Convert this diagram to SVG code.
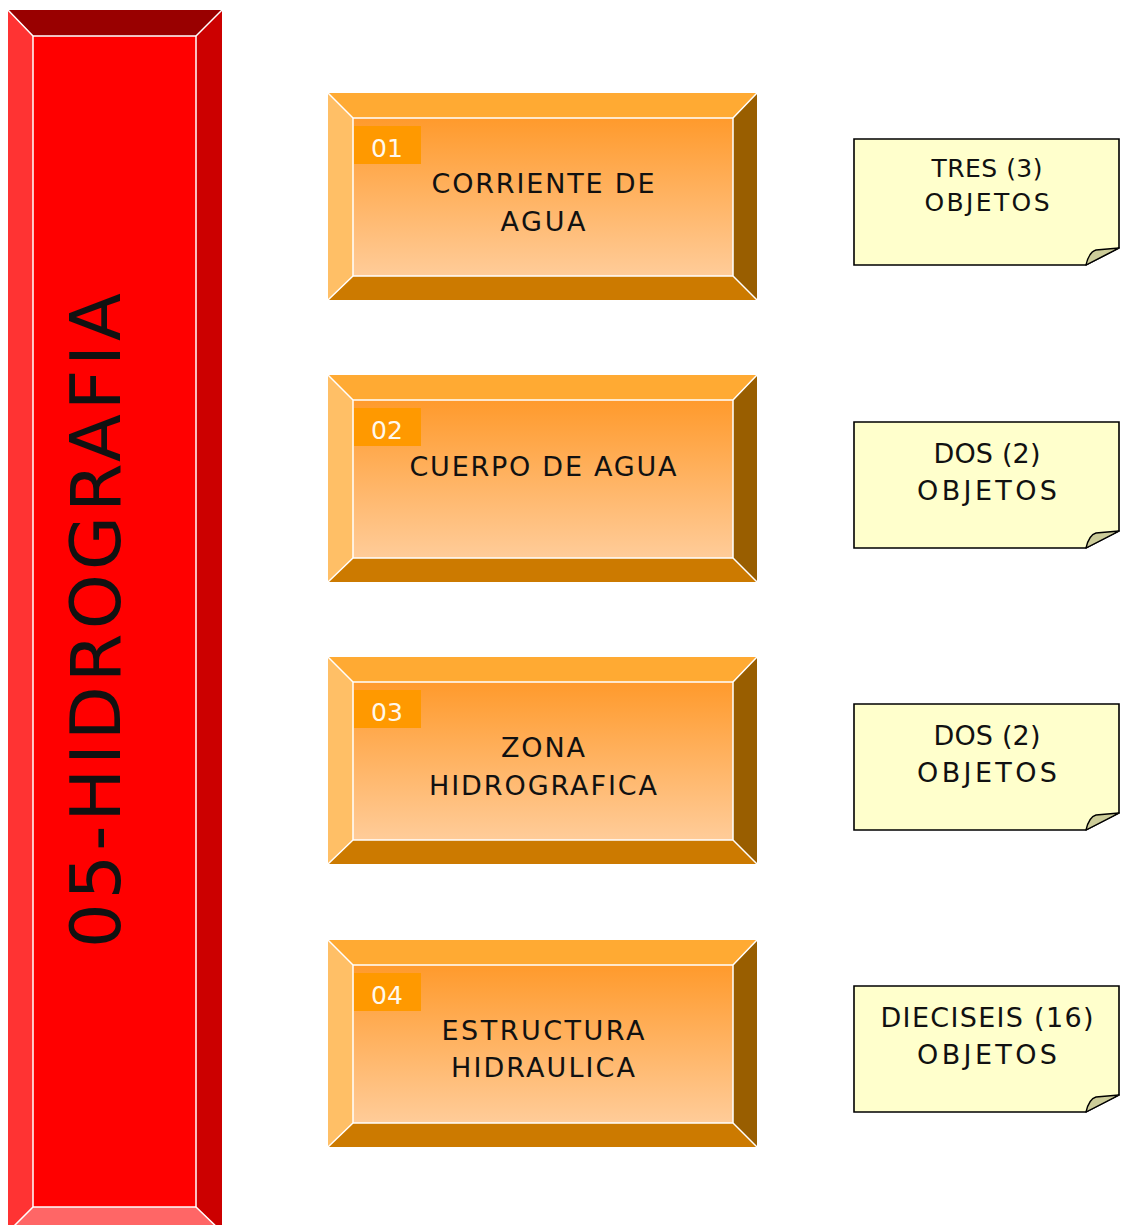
<svg xmlns="http://www.w3.org/2000/svg" width="1125" height="1225" viewBox="0 0 1125 1225">
<style>
.wl{stroke:#FFFFFF;stroke-width:1.5;fill:none}
.t{font-family:"DejaVu Sans","Liberation Sans",sans-serif;fill:#111111}
.bt{font-size:27px;text-anchor:middle}
.lb{font-family:"DejaVu Sans","Liberation Sans",sans-serif;font-size:25px;fill:#FFF8EC}
.nt{stroke:#000000;stroke-width:1.6;fill:#FFFFCC}
.nf{stroke:#000000;stroke-width:1.4;fill:#CCCC99;stroke-linejoin:round}
.ntx{text-anchor:middle}
</style>
<defs>
<linearGradient id="og" x1="0" y1="0" x2="0" y2="1">
<stop offset="0" stop-color="#FF9A2C"/>
<stop offset="1" stop-color="#FFCC99"/>
</linearGradient>
</defs>

<g id="title-bar">
<polygon points="8,10 222,10 196,36 33,36" fill="#990000"/>
<polygon points="8,10 33,36 33,1207 8,1232" fill="#FF3333"/>
<polygon points="222,10 222,1232 196,1207 196,36" fill="#CC0000"/>
<polygon points="8,1232 33,1207 196,1207 222,1232" fill="#FF6666"/>
<rect x="33" y="36" width="163" height="1171" fill="#FF0000"/>
<rect x="33" y="36" width="163" height="1171" class="wl"/>
<path d="M8,10 L33,36 M222,10 L196,36 M33,1207 L8,1232 M196,1207 L222,1232" class="wl"/>
<text transform="translate(120,620.5) rotate(-90)" class="t" font-size="70" text-anchor="middle" textLength="655" lengthAdjust="spacing" x="0" y="0" fill="#000000">05-HIDROGRAFIA</text>
</g>

<g id="box-01" transform="translate(0,93)">
<polygon points="328,0 757,0 733,25 353,25" fill="#FFAA33"/>
<polygon points="328,0 353,25 353,183 328,207" fill="#FFBF66"/>
<polygon points="757,0 757,207 733,183 733,25" fill="#995E00"/>
<polygon points="328,207 353,183 733,183 757,207" fill="#CC7A00"/>
<rect x="353" y="25" width="380" height="158" fill="url(#og)"/>
<rect x="353" y="25" width="380" height="158" class="wl"/>
<path d="M328,0 L353,25 M757,0 L733,25 M353,183 L328,207 M733,183 L757,207" class="wl"/>
<rect x="354" y="33" width="67" height="38" fill="#FF9900"/>
<text x="371" y="64" class="lb">01</text>
<text x="543" y="100" class="t bt" textLength="223" lengthAdjust="spacing">CORRIENTE DE</text>
<text x="543" y="138" class="t bt" textLength="85" lengthAdjust="spacing">AGUA</text>
</g>

<g id="box-02" transform="translate(0,375)">
<polygon points="328,0 757,0 733,25 353,25" fill="#FFAA33"/>
<polygon points="328,0 353,25 353,183 328,207" fill="#FFBF66"/>
<polygon points="757,0 757,207 733,183 733,25" fill="#995E00"/>
<polygon points="328,207 353,183 733,183 757,207" fill="#CC7A00"/>
<rect x="353" y="25" width="380" height="158" fill="url(#og)"/>
<rect x="353" y="25" width="380" height="158" class="wl"/>
<path d="M328,0 L353,25 M757,0 L733,25 M353,183 L328,207 M733,183 L757,207" class="wl"/>
<rect x="354" y="33" width="67" height="38" fill="#FF9900"/>
<text x="371" y="64" class="lb">02</text>
<text x="543" y="101" class="t bt" textLength="267" lengthAdjust="spacing">CUERPO DE AGUA</text>
</g>

<g id="box-03" transform="translate(0,657)">
<polygon points="328,0 757,0 733,25 353,25" fill="#FFAA33"/>
<polygon points="328,0 353,25 353,183 328,207" fill="#FFBF66"/>
<polygon points="757,0 757,207 733,183 733,25" fill="#995E00"/>
<polygon points="328,207 353,183 733,183 757,207" fill="#CC7A00"/>
<rect x="353" y="25" width="380" height="158" fill="url(#og)"/>
<rect x="353" y="25" width="380" height="158" class="wl"/>
<path d="M328,0 L353,25 M757,0 L733,25 M353,183 L328,207 M733,183 L757,207" class="wl"/>
<rect x="354" y="33" width="67" height="38" fill="#FF9900"/>
<text x="371" y="64" class="lb">03</text>
<text x="543" y="100" class="t bt" textLength="84" lengthAdjust="spacing">ZONA</text>
<text x="543" y="138" class="t bt" textLength="228" lengthAdjust="spacing">HIDROGRAFICA</text>
</g>

<g id="box-04" transform="translate(0,940)">
<polygon points="328,0 757,0 733,25 353,25" fill="#FFAA33"/>
<polygon points="328,0 353,25 353,183 328,207" fill="#FFBF66"/>
<polygon points="757,0 757,207 733,183 733,25" fill="#995E00"/>
<polygon points="328,207 353,183 733,183 757,207" fill="#CC7A00"/>
<rect x="353" y="25" width="380" height="158" fill="url(#og)"/>
<rect x="353" y="25" width="380" height="158" class="wl"/>
<path d="M328,0 L353,25 M757,0 L733,25 M353,183 L328,207 M733,183 L757,207" class="wl"/>
<rect x="354" y="33" width="67" height="38" fill="#FF9900"/>
<text x="371" y="64" class="lb">04</text>
<text x="543" y="100" class="t bt" textLength="203" lengthAdjust="spacing">ESTRUCTURA</text>
<text x="543" y="137" class="t bt" textLength="184" lengthAdjust="spacing">HIDRAULICA</text>
</g>

<g id="note-01" transform="translate(0,139)">
<path d="M854,0 H1119 V109 L1086,126 H854 Z" class="nt"/>
<path d="M1086,126 Q1089,113 1096,111 L1119,109 Z" class="nf"/>
<text x="987" y="38" class="t ntx" font-size="25" textLength="111" lengthAdjust="spacing">TRES (3)</text>
<text x="987" y="72" class="t ntx" font-size="25" textLength="125" lengthAdjust="spacing">OBJETOS</text>
</g>

<g id="note-02" transform="translate(0,422)">
<path d="M854,0 H1119 V109 L1086,126 H854 Z" class="nt"/>
<path d="M1086,126 Q1089,113 1096,111 L1119,109 Z" class="nf"/>
<text x="987" y="41" class="t ntx" font-size="27" textLength="107" lengthAdjust="spacing">DOS (2)</text>
<text x="987" y="78" class="t ntx" font-size="27" textLength="140" lengthAdjust="spacing">OBJETOS</text>
</g>

<g id="note-03" transform="translate(0,704)">
<path d="M854,0 H1119 V109 L1086,126 H854 Z" class="nt"/>
<path d="M1086,126 Q1089,113 1096,111 L1119,109 Z" class="nf"/>
<text x="987" y="41" class="t ntx" font-size="27" textLength="107" lengthAdjust="spacing">DOS (2)</text>
<text x="987" y="78" class="t ntx" font-size="27" textLength="140" lengthAdjust="spacing">OBJETOS</text>
</g>

<g id="note-04" transform="translate(0,986)">
<path d="M854,0 H1119 V109 L1086,126 H854 Z" class="nt"/>
<path d="M1086,126 Q1089,113 1096,111 L1119,109 Z" class="nf"/>
<text x="987" y="41" class="t ntx" font-size="27" textLength="213" lengthAdjust="spacing">DIECISEIS (16)</text>
<text x="987" y="78" class="t ntx" font-size="27" textLength="140" lengthAdjust="spacing">OBJETOS</text>
</g>

<g id="connectors"></g>
</svg>
